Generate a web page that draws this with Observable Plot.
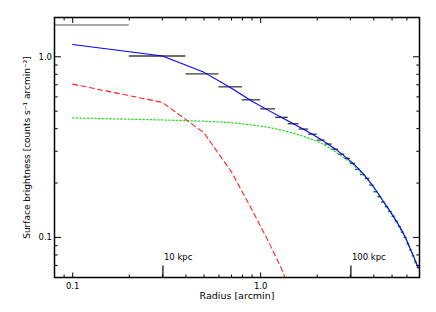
<!DOCTYPE html>
<html>
<head>
<meta charset="utf-8">
<script src="https://cdn.jsdelivr.net/npm/d3@7"></script>
<script src="https://cdn.jsdelivr.net/npm/@observablehq/plot@0.6"></script>
<style>
  html, body { margin: 0; padding: 0; background: #fff; }
</style>
</head>
<body>
<div id="chart"></div>
<script>
// ---- data ----
// bin centres of the radial profile, in arcmin (bins are 0.2 arcmin wide)
const radius = [0.1, 0.3, 0.5, 0.7, 0.9, 1.1, 1.3, 1.5, 1.7, 1.9,
                2.1, 2.3, 2.5, 2.7, 2.9, 3.1, 3.3, 3.5, 3.7, 3.9,
                4.1, 4.3, 4.5, 4.7, 4.9, 5.1, 5.3, 5.5, 5.7, 5.9,
                6.1, 6.3, 6.5, 6.7, 6.9];
const binHalfWidth = 0.1;
// measured surface brightness [counts s^-1 arcmin^-2]
const observed = [1.50, 1.01, 0.805, 0.682, 0.578, 0.515, 0.462, 0.426, 0.398, 0.373,
                  0.346, 0.329, 0.308, 0.289, 0.274, 0.257, 0.238, 0.223, 0.212, 0.195,
                  0.179, 0.168, 0.157, 0.148, 0.139, 0.131, 0.123, 0.115, 0.107, 0.100,
                  0.092, 0.085, 0.079, 0.073, 0.068];
// index of bins excluded from the fit (drawn grey)
const excludedBins = [0];
// total model (blue)
const modelTotal = [1.17, 1.01, 0.82, 0.67, 0.568, 0.505, 0.460, 0.424, 0.396, 0.370,
                    0.348, 0.327, 0.308, 0.290, 0.273, 0.257, 0.241, 0.226, 0.211, 0.197,
                    0.183, 0.170, 0.158, 0.148, 0.139, 0.130, 0.122, 0.114, 0.107, 0.100,
                    0.092, 0.085, 0.079, 0.073, 0.068];
// central component (red dashed), first bins only; the rest falls below the axis
const modelCore = [0.706, 0.559, 0.379, 0.230, 0.142, 0.095, 0.066, 0.044, 0.030];
// extended component (green dotted)
const modelCluster = [0.459, 0.447, 0.440, 0.432, 0.419, 0.407, 0.392, 0.377, 0.362, 0.347,
                      0.333, 0.315, 0.298, 0.282, 0.267, 0.253, 0.238, 0.223, 0.209, 0.195,
                      0.181, 0.169, 0.157, 0.147, 0.138, 0.129, 0.121, 0.113, 0.106, 0.099,
                      0.091, 0.084, 0.078, 0.072, 0.067];

// axes
const xDomain = [0.08, 7];
const yDomain = [0.06, 1.65];
const xMajorTicks = [0.1, 1];
const xTickLabels = ["0.1", "1.0"];
const xMinorTicks = [0.09, 0.2, 0.3, 0.4, 0.5, 0.6, 0.7, 0.8, 0.9, 2, 3, 4, 5, 6];
const yMajorTicks = [0.1, 1];
const yTickLabels = ["0.1", "1.0"];
const yMinorTicks = [0.07, 0.08, 0.09, 0.2, 0.3, 0.4, 0.5, 0.6, 0.7, 0.8, 0.9];
const kpcTicks = [10, 100];
const arcminPerKpc = 0.0302;
const xLabel = "Radius [arcmin]";
const yLabel = "Surface brightness [counts s\u207B\u00B9 arcmin\u207B\u00B2]";

// ---- tables built from the arrays ----
const bins = radius.map((r, i) => ({r, lo: r - binHalfWidth, hi: r + binHalfWidth, v: observed[i], excluded: excludedBins.includes(i)}));
const total = radius.map((r, i) => ({r, v: modelTotal[i]}));
const core = modelCore.map((v, i) => ({r: radius[i], v}));
const cluster = radius.map((r, i) => ({r, v: modelCluster[i]}));
const kpc = kpcTicks.map(k => ({k, r: k * arcminPerKpc}));

const noText = () => "";

const chart = Plot.plot({
  width: 436,
  height: 312,
  marginLeft: 54,
  marginRight: 17,
  marginTop: 17,
  marginBottom: 35,
  style: {fontFamily: "'DejaVu Sans', sans-serif", fontSize: "8.5px", color: "#000", background: "#fff"},
  x: {type: "log", domain: xDomain, axis: null},
  y: {type: "log", domain: yDomain, axis: null},
  marks: [
    // data bins
    Plot.ruleY(bins.filter(d => d.excluded), {y: "v", x1: d => Math.max(d.lo, xDomain[0]), x2: "hi", stroke: "#8a8a8a", strokeWidth: 1.6}),
    Plot.ruleY(bins.filter(d => !d.excluded), {y: "v", x1: "lo", x2: "hi", stroke: "#3a3a3a", strokeWidth: 1.3}),
    // model components
    Plot.line(cluster, {x: "r", y: "v", stroke: "#22dd22", strokeWidth: 1.3, strokeDasharray: "1.3,2.4", clip: true}),
    Plot.line(core, {x: "r", y: "v", stroke: "#ff2020", strokeWidth: 1.1, strokeDasharray: "5,3.5", clip: true}),
    Plot.line(total, {x: "r", y: "v", stroke: "#0000ff", strokeWidth: 1.1, clip: true}),
    // ticks (inward)
    Plot.axisX(xMajorTicks, {anchor: "bottom", tickSize: -4.5, tickFormat: noText, label: null}),
    Plot.axisX(xMinorTicks, {anchor: "bottom", tickSize: -2.5, tickFormat: noText, label: null}),
    Plot.axisX(xMajorTicks, {anchor: "top", tickSize: -5, tickFormat: noText, label: null}),
    Plot.axisX(xMinorTicks, {anchor: "top", tickSize: -2.5, tickFormat: noText, label: null}),
    Plot.axisY(yMajorTicks, {anchor: "left", tickSize: -7, tickFormat: noText, label: null}),
    Plot.axisY(yMinorTicks, {anchor: "left", tickSize: -3.7, tickFormat: noText, label: null}),
    Plot.axisY(yMajorTicks, {anchor: "right", tickSize: -7, tickFormat: noText, label: null}),
    Plot.axisY(yMinorTicks, {anchor: "right", tickSize: -3.7, tickFormat: noText, label: null}),
    // tick labels
    Plot.axisX(xMajorTicks, {anchor: "bottom", tickSize: 0, tickPadding: 5.5, tickFormat: d => xTickLabels[xMajorTicks.indexOf(d)], label: null}),
    Plot.axisY(yMajorTicks, {anchor: "left", tickSize: 0, tickPadding: 2.5, tickFormat: d => yTickLabels[yMajorTicks.indexOf(d)], label: null}),
    // physical scale ticks
    Plot.axisX(kpc.map(d => d.r), {anchor: "bottom", tickSize: -11.5, tickFormat: noText, label: null, strokeWidth: 1.2}),
    Plot.text(kpc, {x: "r", frameAnchor: "bottom", dy: -18, dx: 1, textAnchor: "start", text: d => `${d.k} kpc`}),
    // frame and titles
    Plot.frame({stroke: "#000", strokeWidth: 1.5}),
    Plot.text([xLabel], {frameAnchor: "bottom", dy: 21.5, fontSize: 9.5, text: d => d}),
    Plot.text([yLabel], {frameAnchor: "left", textAnchor: "middle", dx: -27, rotate: -90, fontSize: 9, text: d => d})
  ]
});
document.getElementById("chart").appendChild(chart);
</script>
</body>
</html>
